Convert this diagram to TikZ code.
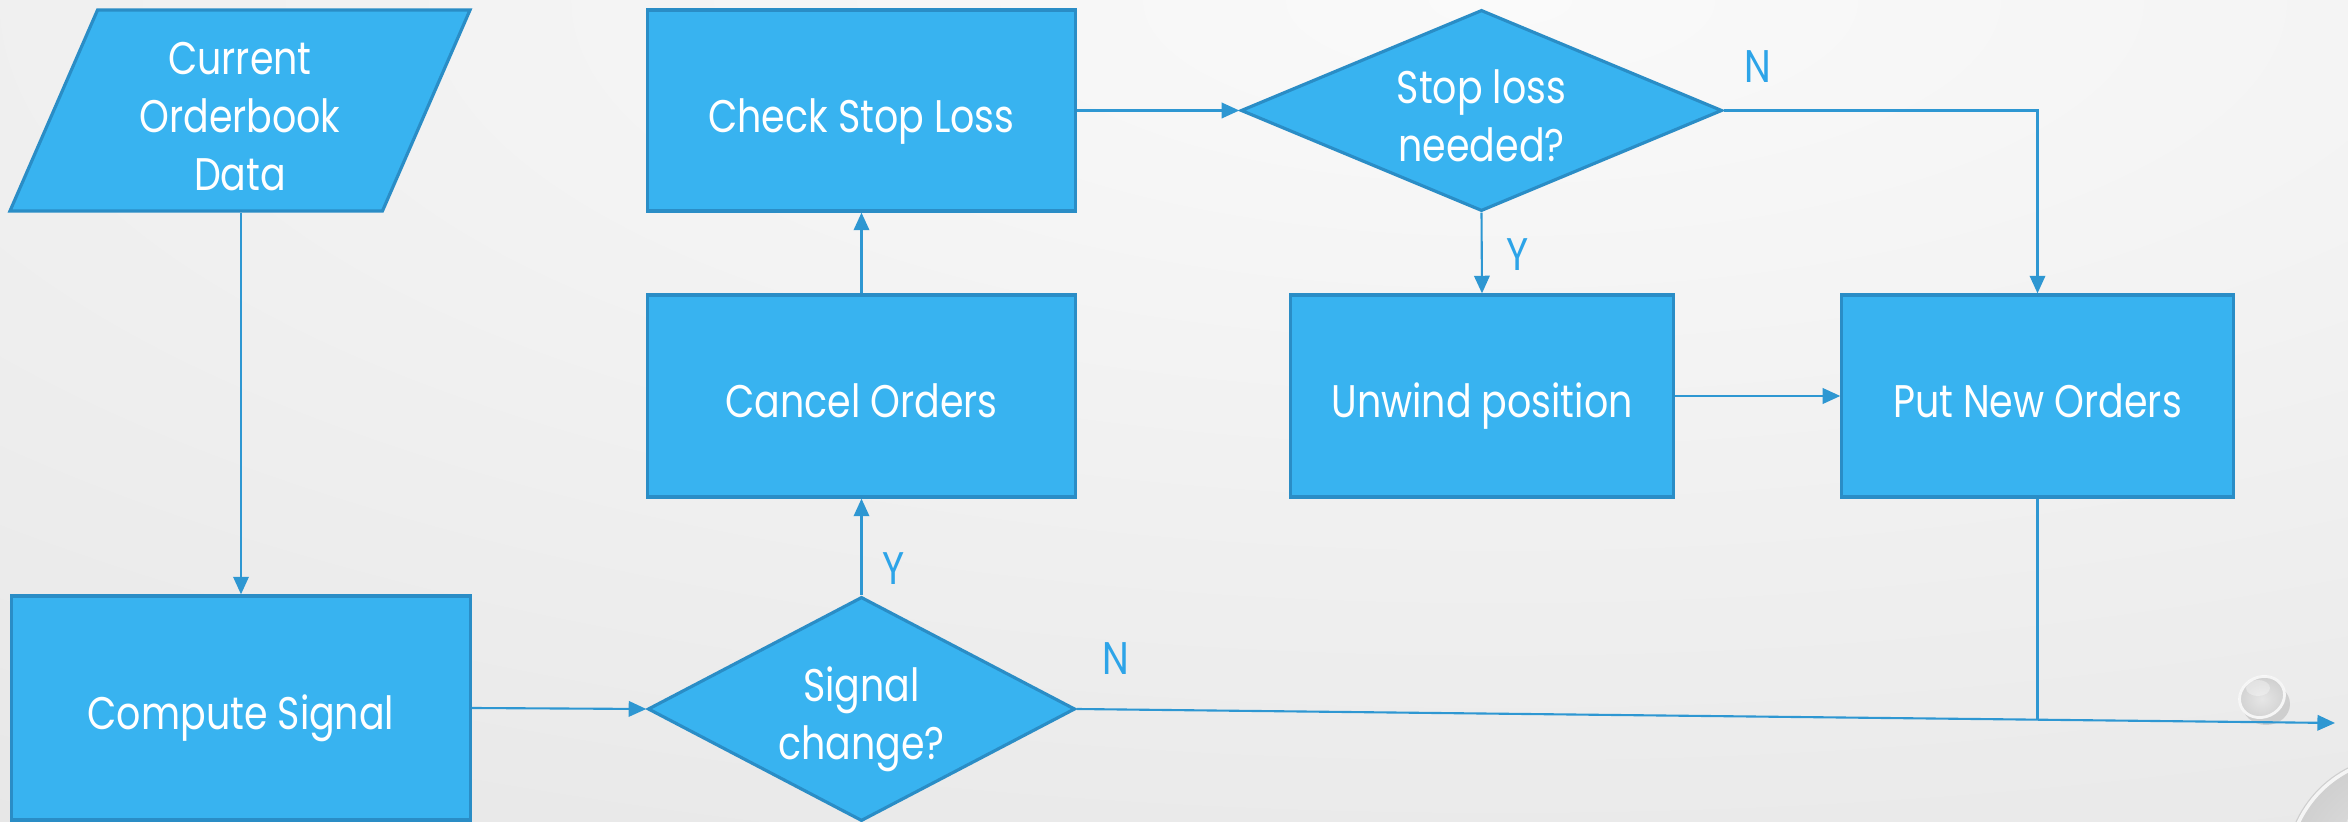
\documentclass[tikz,border=0pt]{standalone}
\usepackage{fontspec}
\setmainfont{Poppins}[FakeStretch=0.83]
\usetikzlibrary{shapes.geometric,arrows.meta,calc}

\definecolor{boxfill}{HTML}{38B3F0}
\definecolor{boxedge}{HTML}{2A8DC6}
\definecolor{wire}{HTML}{2E97D2}
\definecolor{tagblue}{HTML}{2DA4E8}
\definecolor{bglight}{HTML}{FAFAFA}
\definecolor{bgdark}{HTML}{D0D0D0}
\definecolor{dropmid}{HTML}{CFCFCF}
\definecolor{droplight}{HTML}{E6E6E6}

% struts that sit each text block a little below the shape centre
\newcommand\tstr{\rule[-0.3\baselineskip]{0pt}{\dimexpr0.7\baselineskip+10.6pt\relax}}
\newcommand\bstr{\rule[-0.3\baselineskip]{0pt}{0.7\baselineskip}}

\begin{document}
\begin{tikzpicture}[x=0.01cm,y=-0.01cm,
  font=\fontsize{13}{16.5}\selectfont,
  box/.style={draw=boxedge, line width=0.9pt, fill=boxfill, inner sep=2pt},
  txt/.style={text=white, align=center, inner sep=0pt},
  proc/.style={box, rectangle, minimum width=#1, minimum height=2.02cm},
  decide/.style 2 args={box, diamond, aspect=2, minimum width=#1, minimum height=#2},
  iodata/.style={box, trapezium, trapezium left angle=72.9, trapezium right angle=107.1,
    trapezium stretches=true, minimum width=4.60cm, minimum height=2.01cm},
  flow/.style={draw=wire, line width=0.6pt, -{Triangle[length=5pt,width=4.4pt]}},
  plain/.style={draw=wire, line width=0.6pt},
  tag/.style={text=tagblue, inner sep=0pt}
]
% page and background
\useasboundingbox (0,0) rectangle (2348,822);
\begin{scope}
  \clip (0,0) rectangle (2348,822);
  \shade[inner color=bglight, outer color=bgdark] (1500,0) ellipse [x radius=60cm, y radius=22cm];
  % glass drops
  \fill[black, opacity=0.12] (2266,704) ellipse [x radius=24, y radius=21];
  \shade[inner color=droplight, outer color=dropmid, rotate around={25:(2262,697)}]
    (2262,697) ellipse [x radius=24, y radius=21];
  \draw[white, opacity=0.8, line width=0.8pt, rotate around={25:(2262,697)}]
    (2262,697) ellipse [x radius=23, y radius=20];
  \fill[white, opacity=0.35] (2258,688) ellipse [x radius=12, y radius=8];
  \fill[black, opacity=0.10] (2405,878) circle [radius=1.15cm];
  \shade[inner color=droplight, outer color=dropmid] (2400,870) circle [radius=1.15cm];
  \draw[white, opacity=0.8, line width=1pt] (2400,870) circle [radius=1.12cm];
  \fill[white, opacity=0.35] (2385,830) ellipse [x radius=40, y radius=30];
\end{scope}

% flowchart nodes (text set as centred labels so it does not resize the shapes)
\node[iodata, label={[txt]center:{\tstr Current\\Orderbook\\Data\bstr}}] (data) at (240,110.5) {};
\node[proc=4.58cm, minimum height=2.24cm, label={[txt]center:{\tstr Compute Signal\bstr}}] (comp) at (241,708) {};
\node[decide={4.27cm}{2.24cm}, label={[txt]center:{\tstr Signal\\change?\bstr}}] (sig) at (861.5,709) {};
\node[proc=4.27cm, label={[txt]center:{\tstr Cancel Orders\bstr}}] (cancel) at (861.5,396) {};
\node[proc=4.27cm, minimum height=2.01cm, label={[txt]center:{\tstr Check Stop Loss\bstr}}] (chk) at (861.5,110.5) {};
\node[decide={4.81cm}{2.01cm}, label={[txt]center:{\tstr Stop loss\\needed?\bstr}}] (sl) at (1481.5,110.5) {};
\node[proc=3.82cm, label={[txt]center:{\tstr Unwind position\bstr}}] (unwind) at (1482,396) {};
\node[proc=3.91cm, label={[txt]center:{\tstr Put New Orders\bstr}}] (put) at (2037.5,396) {};

% branch labels
\node[tag] (ysig) at (894,569) {Y};
\node[tag] (nsig) at (1116,659) {N};
\node[tag] (nsl) at (1758,67) {N};
\node[tag] (ysl) at (1518,255) {Y};

% connectors
\coordinate (outend) at (2335,723);
\coordinate (merge) at (2037.5,719.5);
\draw[flow] (comp.north |- data.south) -- (comp.north);
\draw[flow] (comp.east) -- (sig.west);
\draw[flow] (sig.north) -- (cancel.south);
\draw[flow] (cancel.north) -- (chk.south);
\draw[flow] (chk.east) -- (sl.west);
\draw[flow] (sl.south) -- (unwind.north);
\draw[flow] (sl.east) -| (put.north);
\draw[flow] (unwind.east) -- (put.west);
\draw[plain] (put.south) -- (merge);
\draw[flow] (sig.east) -- (outend);
\end{tikzpicture}
\end{document}
